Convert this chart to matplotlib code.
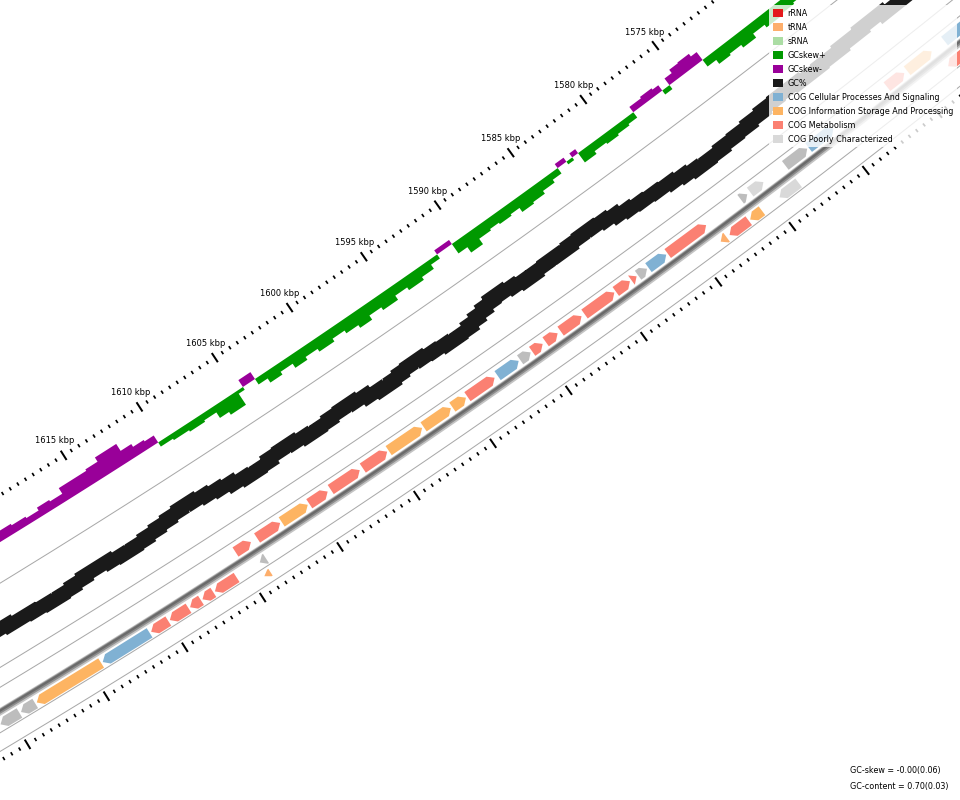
"""
Zoomed-in window of a circular genome map (GC skew, GC%, COG-coloured CDS).
"""
import matplotlib
matplotlib.use("Agg")
import matplotlib.pyplot as plt
import numpy as np
from matplotlib.patches import Patch

# ---------------------------------------------------------------- data
# GC skew as runs: value holds from edge i to edge i+1 (kbp)
skew_edges = [1555.0, 1561.0, 1562.0, 1563.5, 1565.0, 1566.5, 1567.5, 1568.5, 1569.5, 1570.3,
              1571.2, 1572.0, 1572.8, 1573.4, 1573.8, 1574.6, 1575.2, 1575.7, 1576.2, 1576.6,
              1577.4, 1578.2, 1578.8, 1579.6, 1580.4, 1581.2, 1582.0, 1582.4, 1582.8, 1583.4,
              1584.0, 1584.8, 1585.6, 1586.4, 1587.0, 1587.8, 1588.4, 1589.2, 1590.0, 1590.6,
              1591.6, 1592.2, 1593.0, 1594.0, 1594.8, 1595.8, 1596.6, 1597.4, 1598.2, 1599.0,
              1600.0, 1600.8, 1601.6, 1602.4, 1603.2, 1603.8, 1604.6, 1605.0, 1606.0, 1606.6,
              1607.4, 1608.4, 1609.4, 1610.2, 1610.8, 1611.5, 1612.2, 1613.6, 1614.4, 1615.4,
              1616.2, 1617.0, 1617.8, 1618.6, 1619.5, 1620.4, 1621.5, 1623.0, 1625.0, 1627.0,
              1635.0]
skew_values = [0.06, 0.07, 0.06, 0.08, 0.07, 0.06, 0.07, 0.08, 0.06, 0.09,
               0.07, 0.08, 0.05, -0.06, -0.08, -0.075, -0.05, 0.03, -0.04, -0.05,
               -0.04, 0.04, 0.05, 0.06, 0.05, 0.07, -0.03, 0.02, -0.03, 0.04,
               0.06, 0.08, 0.09, 0.06, 0.07, 0.06, 0.07, 0.11, 0.07, -0.03,
               0.03, 0.06, 0.08, 0.06, 0.09, 0.07, 0.10, 0.08, 0.06, 0.08,
               0.06, 0.08, 0.05, 0.07, 0.04, -0.05, 0.02, 0.10, 0.08, 0.04,
               0.05, 0.04, 0.03, -0.05, -0.06, -0.08, -0.13, -0.10, -0.09, -0.09,
               -0.05, -0.06, -0.04, -0.05, -0.06, -0.05, -0.06, -0.05, -0.06, -0.05]

# GC content per window (fraction), same run layout
gc_edges = [1555.0, 1557.0, 1559.0, 1561.0, 1562.5, 1564.0, 1565.5, 1567.0, 1568.5, 1570.0,
            1571.5, 1572.5, 1573.5, 1574.5, 1575.5, 1576.5, 1577.3, 1578.0, 1578.8, 1579.8,
            1580.8, 1581.6, 1582.3, 1583.0, 1583.8, 1584.6, 1585.4, 1586.2, 1587.0, 1587.8,
            1588.5, 1589.2, 1589.9, 1590.6, 1591.2, 1591.8, 1592.4, 1593.2, 1594.0, 1594.8,
            1595.6, 1596.4, 1597.0, 1597.6, 1598.4, 1599.2, 1600.0, 1600.8, 1601.6, 1602.4,
            1603.2, 1604.0, 1604.8, 1605.6, 1606.4, 1607.2, 1608.0, 1608.8, 1609.6, 1610.4,
            1611.2, 1612.0, 1612.8, 1613.6, 1614.4, 1615.2, 1616.0, 1616.8, 1617.6, 1618.4,
            1619.2, 1620.0, 1621.0, 1622.5, 1624.0, 1626.0, 1635.0]
gc_values = [0.695, 0.6925, 0.6975, 0.6925, 0.6975, 0.690, 0.695, 0.700, 0.7025, 0.6975,
             0.700, 0.705, 0.710, 0.7125, 0.7175, 0.720, 0.715, 0.710, 0.705, 0.7025,
             0.700, 0.695, 0.6875, 0.6825, 0.680, 0.6825, 0.6875, 0.685, 0.6875, 0.6925,
             0.6875, 0.6825, 0.6775, 0.685, 0.6925, 0.700, 0.7075, 0.710, 0.705, 0.7025,
             0.6975, 0.700, 0.705, 0.710, 0.705, 0.6975, 0.6925, 0.695, 0.700, 0.7025,
             0.6975, 0.6925, 0.695, 0.7025, 0.705, 0.700, 0.6925, 0.6875, 0.6825, 0.6775,
             0.6825, 0.6875, 0.6925, 0.6975, 0.700, 0.6975, 0.6925, 0.6925, 0.6975, 0.7025,
             0.705, 0.7025, 0.700, 0.695, 0.6975, 0.695]

# features: start / end (kbp), strand, category
feat_start = [1559.5, 1563.2, 1565.1, 1570.0, 1571.8, 1574.8, 1575.9, 1578.7, 1581.4, 1582.7,
              1583.4, 1583.85, 1584.9, 1587.1, 1588.7, 1589.7, 1590.5, 1591.3, 1592.9, 1594.8,
              1595.8, 1597.7, 1600.0, 1601.8, 1603.9, 1605.2, 1607.0, 1608.9,
              1559.5, 1573.3, 1575.8, 1576.7, 1578.2, 1608.7, 1610.6, 1612.1, 1612.9, 1613.7,
              1615.0, 1616.2, 1619.3, 1623.5, 1624.5,
              1608.9]
feat_end = [1562.3, 1564.9, 1566.3, 1571.7, 1573.3, 1575.7, 1576.35, 1581.3, 1582.6, 1583.3,
            1583.75, 1584.8, 1586.9, 1588.5, 1589.5, 1590.4, 1591.2, 1592.7, 1594.7, 1595.7,
            1597.6, 1599.9, 1601.6, 1603.7, 1605.1, 1606.9, 1608.5, 1609.9,
            1563.0, 1574.6, 1576.6, 1578.0, 1578.6, 1609.1, 1612.0, 1612.8, 1613.6, 1614.9,
            1616.1, 1619.2, 1623.4, 1624.4, 1625.7,
            1609.3]
feat_strand = [-1] * 28 + [1] * 15 + [1]
feat_track = ["rev"] * 28 + ["fwd"] * 15 + ["rna"]
feat_kind = ["cell", "info", "metab", "cell", "other", "poor", "other", "metab", "cell", "other",
             "metab", "metab", "metab", "metab", "metab", "metab", "other", "cell", "metab", "info",
             "info", "info", "metab", "metab", "metab", "info", "metab", "metab",
             "metab", "poor", "info", "metab", "trna", "other", "metab", "metab", "metab", "metab",
             "metab", "cell", "info", "other", "other",
             "trna"]

# ruler labels shown in the window
label_kbp = [1575, 1580, 1585, 1590, 1595, 1600, 1605, 1610, 1615]

legend_labels = ["rRNA", "tRNA", "sRNA", "GCskew+", "GCskew-", "GC%",
                 "COG Cellular Processes And Signaling",
                 "COG Information Storage And Processing",
                 "COG Metabolism", "COG Poorly Characterized"]
legend_colors = ["#e41a1c", "#fdae6b", "#abdda4", "#009900", "#990099", "#1a1a1a",
                 "#80b1d3", "#fdb462", "#fb8072", "#d9d9d9"]

KIND_COLOR = {"cell": "#80b1d3", "info": "#fdb462", "metab": "#fb8072",
              "poor": "#d9d9d9", "other": "#bdbdbd", "trna": "#fdae6b"}

GC_MEAN = 0.70

# ---------------------------------------------------------------- layout
W, H = 960, 800
KBP_PX = 18.0              # arc length of 1 kbp on the tick ring, pixels
R_TICK = 8500.0            # radius of the labelled ruler, pixels
ANGLE_REF = np.deg2rad(145.3)   # clockwise from 12 o'clock
POS_REF = 1595.0
CX, CY = -4475.0, 7531.5   # circle centre in figure pixels
R_MAX = 8900.0

R_LABEL = R_TICK - 17
R_SKEW = R_TICK + 40
R_GC = R_TICK + 116
R_REV = R_TICK + 174
R_AXIS = R_TICK + 185
R_FWD = R_TICK + 196
R_RNA = R_TICK + 210
R_OUTER = R_TICK + 227
GRID = [75, 147, 164, 203, 219]
TRACK_R = {"rev": R_REV, "fwd": R_FWD, "rna": R_RNA}

SKEW_PX = 165.0
GC_PX = 400.0
PT = 72.0 / 100.0          # points per pixel at dpi 100


def theta(pos):
    # map is clockwise; polar axes kept in default (counter-clockwise, zero east)
    clockwise = ANGLE_REF + (np.asarray(pos, dtype=float) - POS_REF) * KBP_PX / R_TICK
    return np.pi / 2 - clockwise


def draw_feature(ax, start, end, strand, r_mid, width, color):
    head = min(0.33, end - start)
    r0, r1 = r_mid - width / 2, r_mid + width / 2
    if strand > 0:
        b = end - head
        pts = [(start, r0), (b, r0), (end, r_mid), (b, r1), (start, r1)]
    else:
        b = start + head
        pts = [(end, r0), (b, r0), (start, r_mid), (b, r1), (end, r1)]
    p, r = zip(*pts)
    ax.fill(theta(p), r, color=color, lw=0, zorder=4)


def main():
    fig = plt.figure(figsize=(W / 100, H / 100), dpi=100)
    ax = fig.add_axes([(CX - R_MAX) / W, (CY - R_MAX) / H, 2 * R_MAX / W, 2 * R_MAX / H],
                      projection="polar")
    ax.set_ylim(0, R_MAX)
    ax.axis("off")

    span = np.linspace(1550, 1640, 300)
    th_span = theta(span)

    # thin track borders
    for d in GRID:
        ax.plot(th_span, np.full_like(span, R_TICK + d), color="#a8a8a8", lw=1.0 * PT, zorder=1)

    # rulers
    minor = np.arange(1550, 1640.01, 0.5)
    is_major = np.isclose(minor % 5, 0)
    for r_ring in (R_TICK, R_OUTER):
        ax.vlines(theta(minor[~is_major]), r_ring - 1.8, r_ring + 1.8, color="black", lw=1.7 * PT)
        ax.vlines(theta(minor[is_major]), r_ring - 5.5, r_ring + 5.5, color="black", lw=2.0 * PT)
    for m in label_kbp:
        ax.text(theta(m), R_LABEL, f"{m} kbp", ha="center", va="center", fontsize=6)

    # GC skew
    th_e = theta(skew_edges)
    sv = np.array(skew_values + [skew_values[-1]])
    ax.fill_between(th_e, R_SKEW, R_SKEW + np.clip(sv, 0, None) * SKEW_PX, step="post",
                    color="#009900", lw=0, zorder=2)
    ax.fill_between(th_e, R_SKEW, R_SKEW + np.clip(sv, None, 0) * SKEW_PX, step="post",
                    color="#990099", lw=0, zorder=2)

    # GC content
    gv = np.array(gc_values + [gc_values[-1]])
    ax.plot(theta(gc_edges), R_GC + (gv - GC_MEAN) * GC_PX, drawstyle="steps-post",
            color="#1a1a1a", lw=14 * PT, solid_joinstyle="miter", zorder=2)

    # backbone
    ax.plot(th_span, np.full_like(span, R_AXIS), color="#c4c4c4", lw=7 * PT, zorder=3)
    ax.plot(th_span, np.full_like(span, R_AXIS - 0.5), color="#8c8c8c", lw=4.5 * PT, zorder=3)
    ax.plot(th_span, np.full_like(span, R_AXIS - 1.0), color="#6a6a6a", lw=2.2 * PT, zorder=3)

    # features
    for s, e, st, tr, k in zip(feat_start, feat_end, feat_strand, feat_track, feat_kind):
        width = 8 if tr == "rna" else 11
        draw_feature(ax, s, e, st, TRACK_R[tr], width, KIND_COLOR[k])

    handles = [Patch(facecolor=c, edgecolor="none", label=l)
               for l, c in zip(legend_labels, legend_colors)]
    leg = fig.legend(handles=handles, loc="upper left", bbox_to_anchor=(769 / W, 1 - 5 / H),
                     frameon=True, framealpha=0.8, edgecolor="none", fancybox=False,
                     fontsize=5.8, handlelength=1.25, handleheight=1.25, handletextpad=0.6,
                     labelspacing=0.62, borderpad=0.45, borderaxespad=0)
    leg.set_zorder(10)

    fig.text(850 / W, 1 - 771 / H, "GC-skew = -0.00(0.06)", fontsize=5.8, va="center")
    fig.text(850 / W, 1 - 786 / H, "GC-content = 0.70(0.03)", fontsize=5.8, va="center")

    fig.savefig("out.png", dpi=100)
    plt.close(fig)


if __name__ == "__main__":
    main()
